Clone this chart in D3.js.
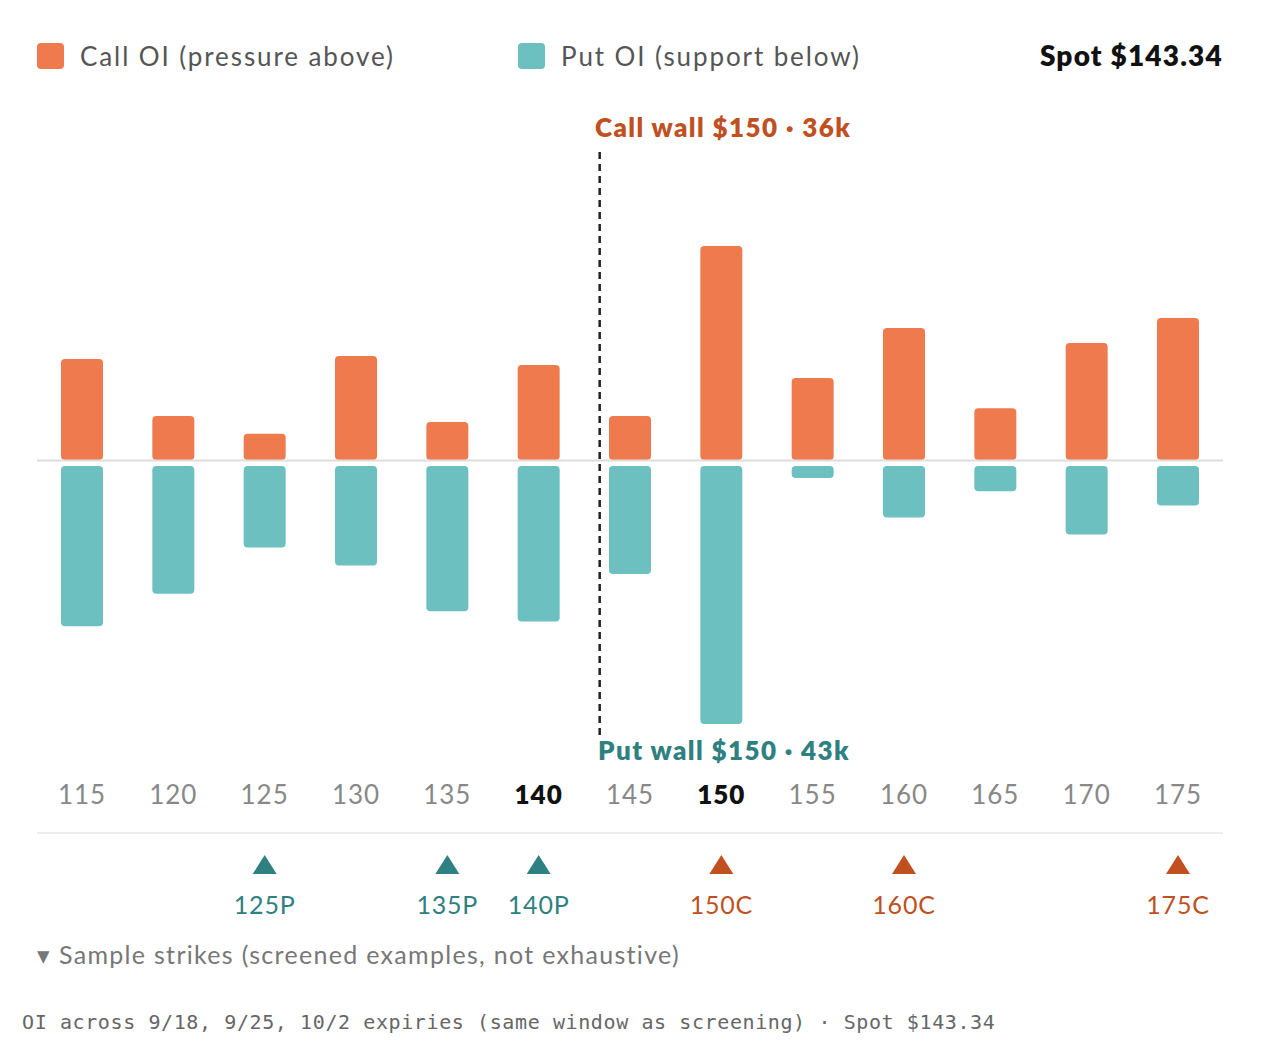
<!DOCTYPE html><html><head><meta charset="utf-8"><script src="https://cdn.jsdelivr.net/npm/d3@7"></script>
<style>body{margin:0;background:#fff;font-family:Lato,"Noto Sans",sans-serif}</style></head><body><svg id="c" width="1264" height="1058"></svg>
<script>
const strikes=[115,120,125,130,135,140,145,150,155,160,165,170,175];
const callOI=[17,7.4,4.4,17.5,6.4,16,7.4,36,13.8,22.2,8.7,19.7,23.9];
const putOI=[26.7,21.3,13.6,16.6,24.2,25.9,18,43,2,8.6,4.2,11.4,6.6];
const boldStrikes=[140,150];
const samples=[{s:125,t:"125P",k:"put"},{s:135,t:"135P",k:"put"},{s:140,t:"140P",k:"put"},{s:150,t:"150C",k:"call"},{s:160,t:"160C",k:"call"},{s:175,t:"175C",k:"call"}];
const spot=143.34;
const CALL="#EE7A4D",PUT="#6CC0C0",CALLD="#C0501F",PUTD="#2F8080";
const svg=d3.select("#c");
const x=d3.scalePoint().domain(strikes).range([82,1178]);
const xl=d3.scaleLinear().domain([115,175]).range([82,1178]);
const yc=d3.scaleLinear().domain([0,36]).range([460,246]);
const yp=d3.scaleLinear().domain([0,43]).range([466,724]);
const bw=42;
svg.append("rect").attr("x",37).attr("y",43).attr("width",27).attr("height",26).attr("rx",4).attr("fill",CALL);
svg.append("text").attr("x",80).attr("y",66).attr("font-size",26).attr("letter-spacing",1.9).attr("fill","#555").text("Call OI (pressure above)");
svg.append("rect").attr("x",518).attr("y",43).attr("width",27).attr("height",26).attr("rx",4).attr("fill",PUT);
svg.append("text").attr("x",561).attr("y",66).attr("font-size",26).attr("letter-spacing",1.9).attr("fill","#555").text("Put OI (support below)");
svg.append("text").attr("x",1223).attr("y",66).attr("text-anchor","end").attr("font-size",28).attr("letter-spacing",1.2).attr("font-weight",800).attr("fill","#111").text("Spot $"+spot);
svg.selectAll(".cb").data(strikes).join("rect").attr("x",d=>x(d)-bw/2).attr("width",bw)
 .attr("y",(d,i)=>yc(callOI[i])).attr("height",(d,i)=>yc(0)-yc(callOI[i])).attr("rx",4).attr("fill",CALL);
svg.selectAll(".pb").data(strikes).join("rect").attr("x",d=>x(d)-bw/2).attr("width",bw)
 .attr("y",yp(0)).attr("height",(d,i)=>yp(putOI[i])-yp(0)).attr("rx",4).attr("fill",PUT);
svg.append("line").attr("x1",37).attr("x2",1223).attr("y1",460.5).attr("y2",460.5).attr("stroke","#ddd").attr("stroke-width",2);
svg.append("line").attr("x1",xl(spot)).attr("x2",xl(spot)).attr("y1",152).attr("y2",738).attr("stroke","#222").attr("stroke-width",2.5).attr("stroke-dasharray","7,5");
svg.append("text").attr("x",595).attr("y",137).attr("font-size",26).attr("letter-spacing",1.4).attr("font-weight",800).attr("fill",CALLD).text("Call wall $150 · 36k");
svg.append("text").attr("x",598).attr("y",760).attr("font-size",26).attr("letter-spacing",1.4).attr("font-weight",800).attr("fill",PUTD).text("Put wall $150 · 43k");
svg.selectAll(".tl").data(strikes).join("text").attr("x",d=>x(d)).attr("y",804).attr("text-anchor","middle")
 .attr("font-size",26).attr("letter-spacing",1).attr("font-weight",d=>boldStrikes.includes(d)?800:400).attr("fill",d=>boldStrikes.includes(d)?"#111":"#888").text(d=>d);
svg.append("line").attr("x1",37).attr("x2",1223).attr("y1",833).attr("y2",833).attr("stroke","#eee").attr("stroke-width",2);
const g=svg.selectAll(".sm").data(samples).join("g").attr("transform",d=>`translate(${x(d.s)},0)`);
g.append("path").attr("d","M0,855L12,874L-12,874Z").attr("fill",d=>d.k=="put"?PUTD:CALLD);
g.append("text").attr("y",914).attr("text-anchor","middle").attr("font-size",25).attr("letter-spacing",0.8).attr("fill",d=>d.k=="put"?PUTD:CALLD).text(d=>d.t);
svg.append("text").attr("x",37).attr("y",964).attr("font-size",25).attr("letter-spacing",1.3).attr("fill","#777").text("▾ Sample strikes (screened examples, not exhaustive)");
svg.append("text").attr("x",22).attr("y",1029).attr("font-size",20).attr("letter-spacing",0.6).attr("font-family","'DejaVu Sans Mono',monospace").attr("fill","#666").text("OI across 9/18, 9/25, 10/2 expiries (same window as screening) · Spot $"+spot);
</script></body></html>
